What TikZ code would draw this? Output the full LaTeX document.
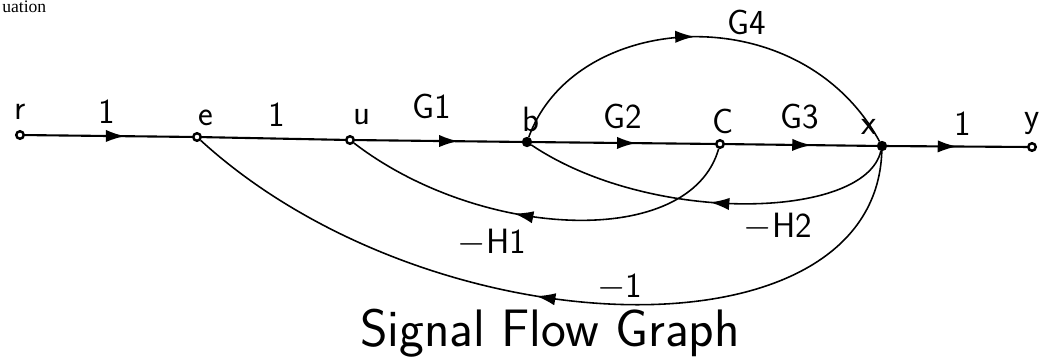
\documentclass[tikz,border=0pt]{standalone}
\usepackage{fontspec}
\newfontfamily\pagefont{Liberation Serif}
\usetikzlibrary{decorations.markings,arrows.meta}
\tikzset{
  hollow/.style={circle,draw,line width=1.4pt,fill=white,inner sep=0pt,minimum size=0.15cm},
  solid/.style={circle,draw,line width=1pt,fill=black,inner sep=0pt,minimum size=0.17cm},
  lbl/.style={font=\sffamily\fontsize{20}{22}\selectfont,inner sep=1pt},
  edge/.style={line width=1.2pt},
  fb/.style={line width=0.9pt},
  midarrow/.style={postaction={decorate},decoration={markings,mark=at position #1 with {\arrow{Latex[length=11pt,width=7pt]}}}},
}
\begin{document}
\begin{tikzpicture}[x=0.02cm,y=-0.02cm]
\useasboundingbox (0,0) rectangle (1042,356);
% page text
\node[anchor=base west,inner sep=0pt,font=\pagefont\fontsize{10}{12}\selectfont] (pg) at (2,12) {uation};
% nodes
\node[hollow] (r) at (20,135) {};
\node[hollow] (e) at (197,137) {};
\node[hollow] (u) at (350,140) {};
\node[solid]  (b) at (527,142) {};
\node[hollow] (c) at (720,144) {};
\node[solid]  (x) at (882,146) {};
\node[hollow] (y) at (1032,147) {};
% node labels
\node[lbl] (lr) at (20,112) {r};
\node[lbl] (le) at (206,118) {e};
\node[lbl] (lu) at (362,117) {u};
\node[lbl] (lb) at (531,119) {b};
\node[lbl] (lc) at (723,121) {C};
\node[lbl] (lx) at (869,127) {x};
\node[lbl] (ly) at (1032,124) {y};
% forward path
\draw[edge,midarrow=0.6] (r) -- (e);
\draw[edge] (e) -- (u);
\draw[edge,midarrow=0.62] (u) -- (b);
\draw[edge,midarrow=0.57] (b) -- (c);
\draw[edge,midarrow=0.57] (c) -- (x);
\draw[edge,midarrow=0.5] (x) -- (y);
% G4
\draw[fb,midarrow=0.48] (b) .. controls (575,10) and (800,-5) .. (x);
% feedback
\draw[fb,midarrow=0.57] (c) .. controls (690,250) and (480,240) .. (u);
\draw[fb,midarrow=0.5] (x) .. controls (865,220) and (650,225) .. (b);
\draw[fb,midarrow=0.53] (x) .. controls (875,365) and (430,350) .. (e);
% gains
\node[lbl] (g1) at (107,112) {1};
\node[lbl] (g2) at (277,115) {1};
\node[lbl] (g3) at (432,106) {G1};
\node[lbl] (g4) at (623,116) {G2};
\node[lbl] (g5) at (800,117) {G3};
\node[lbl] (g6) at (963,124) {1};
\node[lbl] (g7) at (747,22) {G4};
\node[lbl] (h1) at (492,243) {$-$H1};
\node[lbl] (h2) at (778,227) {$-$H2};
\node[lbl] (m1) at (620,287) {$-$1};
\node[lbl,font=\sffamily\fontsize{30}{34}\selectfont] (title) at (550,333) {Signal Flow Graph};
\end{tikzpicture}
\end{document}
